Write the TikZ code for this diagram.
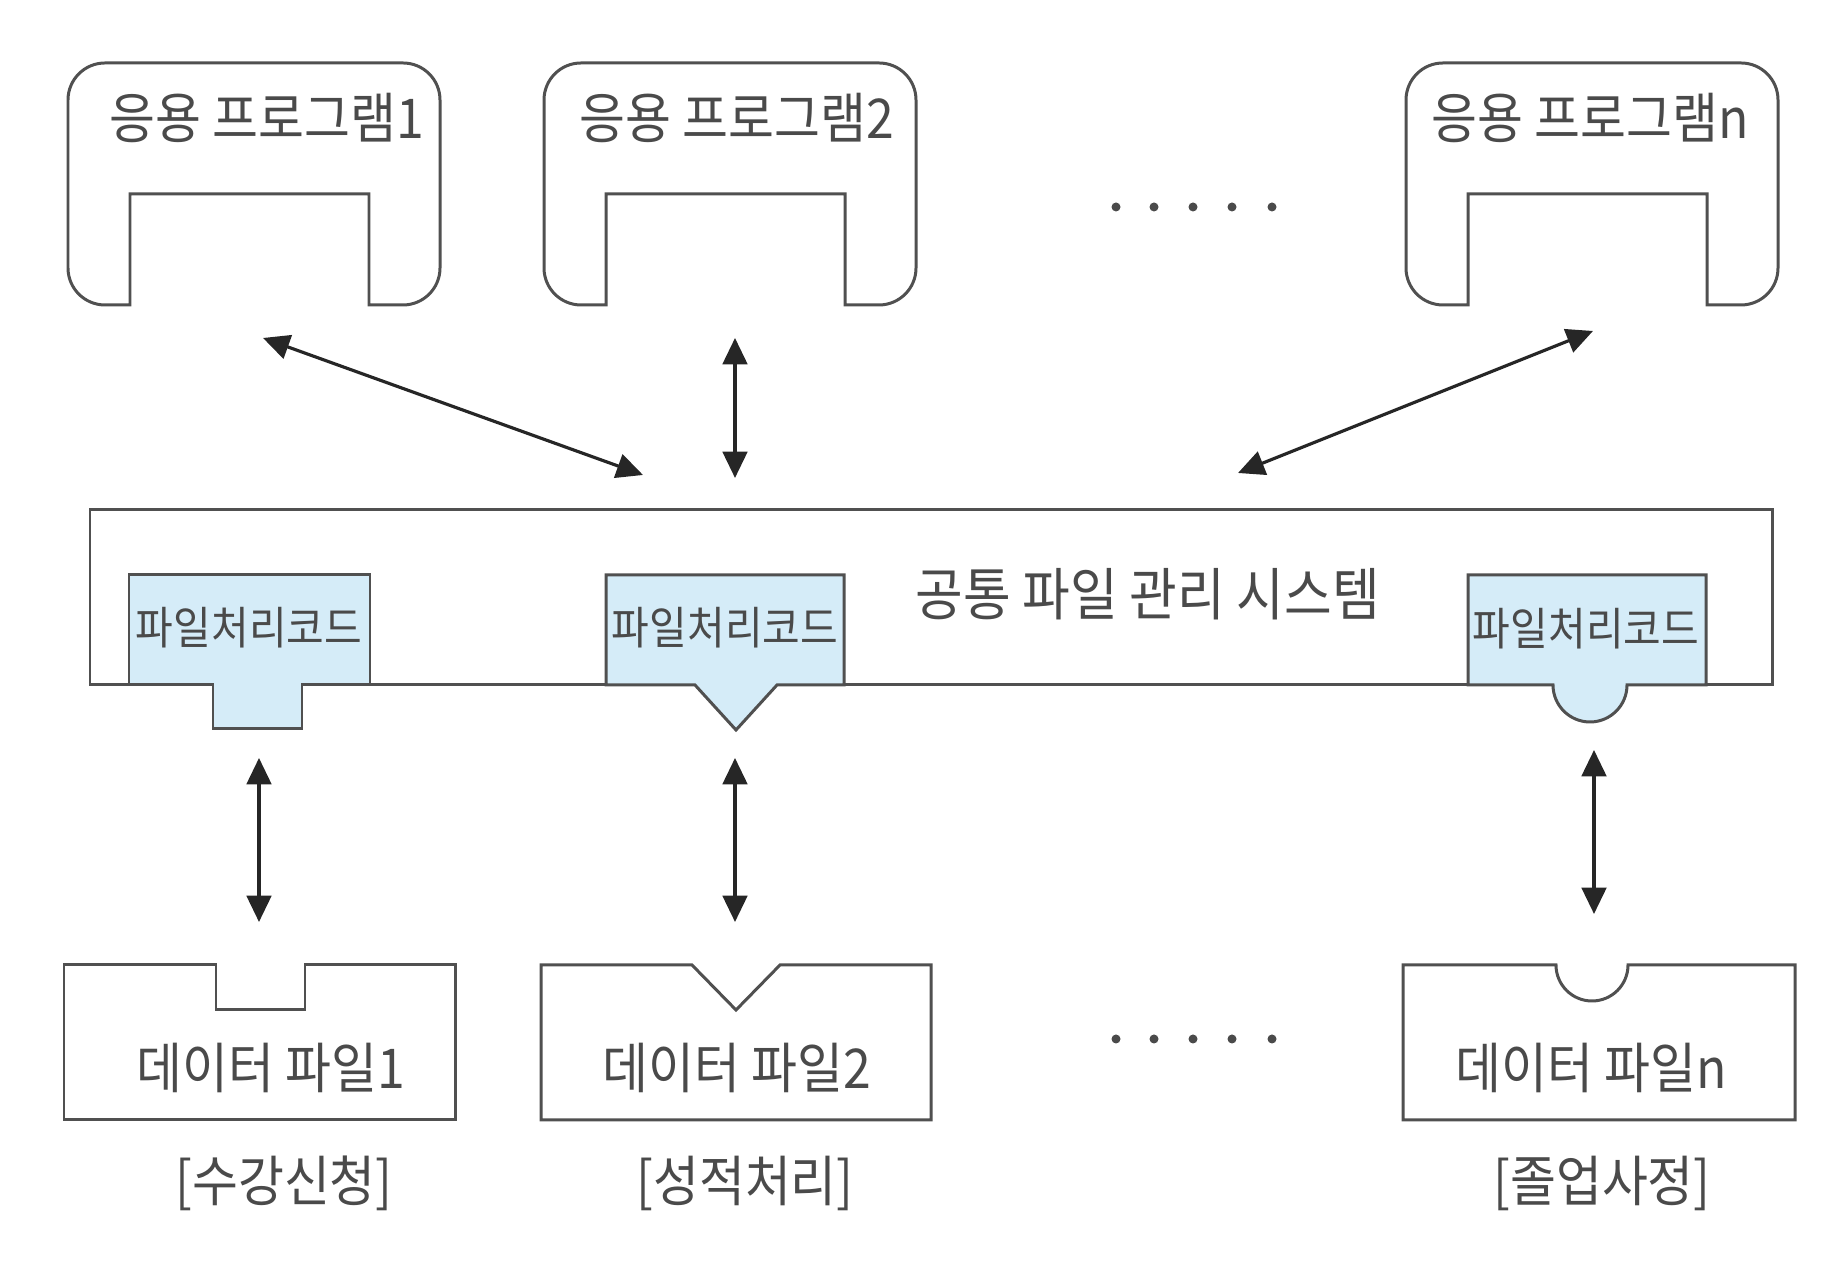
\documentclass[tikz,border=0pt]{standalone}
\usepackage{fontspec}
\newfontfamily\kr[FakeStretch=0.91]{Noto Sans CJK KR}
\usetikzlibrary{arrows.meta}

\definecolor{linegray}{HTML}{505050}
\definecolor{txtgray}{HTML}{4A4A4A}
\definecolor{codeblue}{HTML}{D5ECF8}

\begin{document}
\begin{tikzpicture}[>={Triangle[length=7.5pt,width=7pt]}, x=0.01cm, y=0.01cm, line width=0.85pt]
	\tikzstyle{outline}=[draw=linegray, line join=miter]
	\tikzstyle{txt}=[text=txtgray, inner sep=0pt, font=\kr\fontsize{15.6}{18}\selectfont]
	\tikzstyle{codetxt}=[text=txtgray, inner sep=0pt, font=\kr\fontsize{12.8}{15}\selectfont]
	\tikzstyle{link}=[<->, draw=black!85, line width=0.9pt]
	\useasboundingbox (0,0) rectangle (1830,1261);

	% application programs
	\draw[outline] (130,956) -- (105,956) arc[start angle=270,end angle=180,radius=37] -- (68,1161) arc[start angle=180,end angle=90,radius=37]
		-- (403,1198) arc[start angle=90,end angle=0,radius=37] -- (440,993) arc[start angle=0,end angle=-90,radius=37]
		-- (369,956) -- (369,1067) -- (130,1067) -- cycle;
	\draw[outline] (606,956) -- (581,956) arc[start angle=270,end angle=180,radius=37] -- (544,1161) arc[start angle=180,end angle=90,radius=37]
		-- (879,1198) arc[start angle=90,end angle=0,radius=37] -- (916,993) arc[start angle=0,end angle=-90,radius=37]
		-- (845,956) -- (845,1067) -- (606,1067) -- cycle;
	\draw[outline] (1468,956) -- (1443,956) arc[start angle=270,end angle=180,radius=37] -- (1406,1161) arc[start angle=180,end angle=90,radius=37]
		-- (1741,1198) arc[start angle=90,end angle=0,radius=37] -- (1778,993) arc[start angle=0,end angle=-90,radius=37]
		-- (1707,956) -- (1707,1067) -- (1468,1067) -- cycle;
	\node[txt] (prog1) at (267,1143) {응용 프로그램1};
	\node[txt] (prog2) at (737,1143) {응용 프로그램2};
	\node[txt] (progn) at (1590,1143) {응용 프로그램n};
	\foreach \x in {1116,1154,1193,1232,1272}
		\fill[txtgray] (\x,1054) circle (4.5);

	% common file system
	\draw[outline] (90,576) rectangle (1772,751);
	\node[txt, font=\kr\fontsize{16.2}{19}\selectfont] (sys) at (1148,667) {공통 파일 관리 시스템};
	\draw[outline, fill=codeblue] (129,576) -- (129,686) -- (370,686) -- (370,576) -- (302,576) -- (302,532) -- (213,532) -- (213,576) -- cycle;
	\draw[outline, fill=codeblue] (606,576) -- (606,686) -- (844,686) -- (844,576) -- (777,576) -- (736,531) -- (695,576) -- cycle;
	\draw[outline, fill=codeblue] (1468,576) -- (1468,686) -- (1706,686) -- (1706,576) -- (1627,576) arc[start angle=0,end angle=-180,radius=37] -- cycle;
	\node[codetxt] (code1) at (249,633) {파일처리코드};
	\node[codetxt] (code2) at (725,633) {파일처리코드};
	\node[codetxt] (coden) at (1586,632) {파일처리코드};

	% data files
	\draw[outline] (64,141) -- (64,296) -- (216,296) -- (216,251) -- (305,251) -- (305,296) -- (455,296) -- (455,141) -- cycle;
	\draw[outline] (541,141) -- (541,296) -- (692,296) -- (736,251) -- (780,296) -- (931,296) -- (931,141) -- cycle;
	\draw[outline] (1403,141) -- (1403,296) -- (1556,296) arc[start angle=180,end angle=360,radius=36] -- (1795,296) -- (1795,141) -- cycle;
	\node[txt] (file1) at (271,193) {데이터 파일1};
	\node[txt] (file2) at (737,193) {데이터 파일2};
	\node[txt] (filen) at (1591,193) {데이터 파일n};
	\node[txt] (work1) at (284,78) {[수강신청]};
	\node[txt] (work2) at (745,78) {[성적처리]};
	\node[txt] (workn) at (1602,78) {[졸업사정]};
	\foreach \x in {1116,1154,1193,1232,1272}
		\fill[txtgray] (\x,222) circle (4.5);

	% arrows
	\coordinate (p1) at (263,923);  \coordinate (s1) at (643,786);
	\coordinate (p2) at (735,923);  \coordinate (s2) at (735,783);
	\coordinate (pn) at (1593,930); \coordinate (sn) at (1238,788);
	\coordinate (c1) at (259,503);  \coordinate (f1) at (259,339);
	\coordinate (c2) at (735,503);  \coordinate (f2) at (735,339);
	\coordinate (cn) at (1594,511); \coordinate (fn) at (1594,347);
	\path
		(p1) edge[link] (s1)
		(p2) edge[link] (s2)
		(pn) edge[link] (sn)
		(c1) edge[link] (f1)
		(c2) edge[link] (f2)
		(cn) edge[link] (fn);
\end{tikzpicture}
\end{document}
